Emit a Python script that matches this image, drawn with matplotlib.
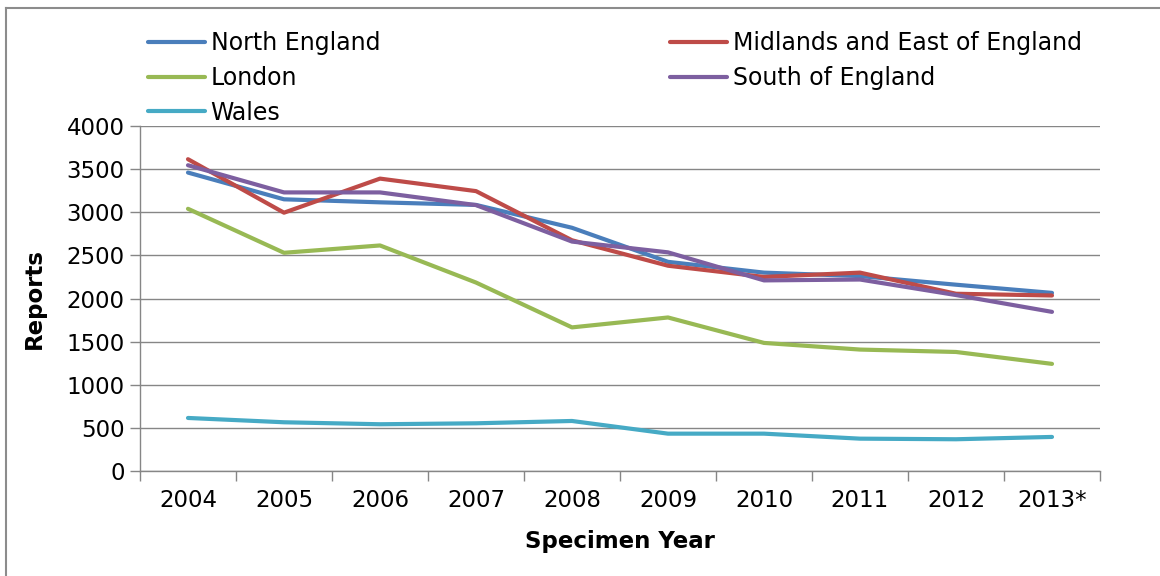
# Reports by region and specimen year, line chart
import numpy as np
import matplotlib
matplotlib.use("Agg")
import matplotlib.pyplot as plt
from matplotlib.lines import Line2D

# the original text is wide Arial; DejaVu Sans matches its width and height
plt.rcParams['font.family'] = ['DejaVu Sans']

# data
years = ['2004', '2005', '2006', '2007', '2008', '2009', '2010', '2011',
         '2012', '2013*']
north_england = [3460, 3150, 3115, 3085, 2820, 2425, 2300, 2260, 2160, 2065]
midlands_east = [3615, 2995, 3390, 3245, 2675, 2380, 2250, 2300, 2055, 2035]
london = [3040, 2530, 2615, 2185, 1665, 1780, 1485, 1408, 1380, 1242]
south_england = [3545, 3230, 3230, 3083, 2660, 2535, 2210, 2220, 2040, 1845]
wales = [615, 565, 542, 553, 580, 433, 433, 375, 368, 395]

series = [
    ('North England', north_england, '#4A7EBB'),
    ('Midlands and East of England', midlands_east, '#BE4B48'),
    ('London', london, '#98B954'),
    ('South of England', south_england, '#7D5FA0'),
    ('Wales', wales, '#46AAC5'),
]

W, H = 1160, 576
fig = plt.figure(figsize=(W / 100, H / 100), dpi=100)
ax = fig.add_axes([140 / W, 1 - 471 / H, 960 / W, 345 / H])

x = np.arange(len(years))
lines = {}
for name, vals, col in series:
    ln, = ax.plot(x, vals, color=col, lw=3, label=name,
                  solid_capstyle='round', solid_joinstyle='round', zorder=3)
    lines[name] = ln

grid_col = '#868686'
ax.set_xlim(-0.5, len(years) - 0.5)
ax.set_ylim(0, 4000)
ax.set_yticks(np.arange(0, 4001, 500))
ax.yaxis.grid(True, color=grid_col, lw=1.0)
ax.set_axisbelow(True)

# category boundaries get tick marks, labels sit in the middle
ax.set_xticks(np.arange(-0.5, len(years)), minor=False)
ax.set_xticklabels([])
ax.set_xticks(x, minor=True)
ax.set_xticklabels(years, minor=True)
ax.tick_params(axis='x', which='major', length=7, width=1.0, color=grid_col)
ax.tick_params(axis='x', which='minor', length=0, pad=13, labelsize=16.5)
ax.tick_params(axis='y', length=7, width=1.0, color=grid_col, labelsize=16.5,
               pad=4)

for side in ['top', 'right']:
    ax.spines[side].set_visible(False)
for side in ['left', 'bottom']:
    ax.spines[side].set_color(grid_col)
    ax.spines[side].set_linewidth(1.0)

ax.set_xlabel('Specimen Year', fontsize=16.5, fontweight='bold', labelpad=13)
ax.set_ylabel('Reports', fontsize=16.5, fontweight='bold', labelpad=15)

# legend laid out like the original: column-major order
order = ['North England', 'London', 'Wales',
         'Midlands and East of England', 'South of England']
fig.legend([lines[n] for n in order], order, ncol=2, loc='upper left',
           bbox_to_anchor=(148 / W, 1 - 31 / H), frameon=False, fontsize=17,
           handlelength=2.4, handletextpad=0.25, columnspacing=12.28,
           labelspacing=0.46, borderpad=0, borderaxespad=0)

# outer chart border
fig.add_artist(Line2D([6 / W, 1], [1 - 8 / H, 1 - 8 / H], color='#8c8c8c',
                      lw=1.5, transform=fig.transFigure))
fig.add_artist(Line2D([6 / W, 6 / W], [0, 1 - 8 / H], color='#8c8c8c',
                      lw=1.5, transform=fig.transFigure))

fig.savefig('out.png', dpi=100)
